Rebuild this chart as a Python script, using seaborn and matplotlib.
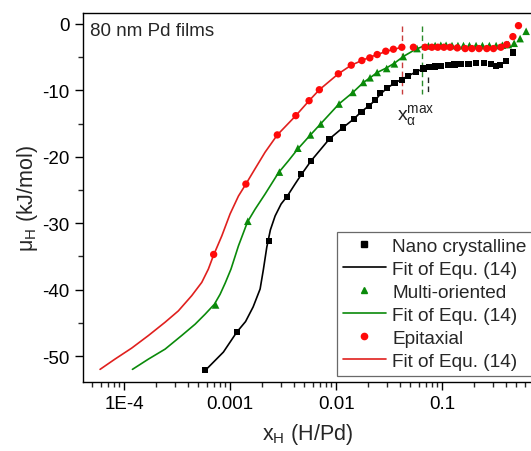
import matplotlib
matplotlib.use("Agg")
import matplotlib.pyplot as plt
import seaborn as sns
from matplotlib.lines import Line2D
from matplotlib.ticker import LogLocator, MultipleLocator, NullFormatter

# ──────────────────────────────────────────────
# Data
# ──────────────────────────────────────────────

# Nano crystalline: measured points
nano_x = [5.85e-4, 1.17e-3, 2.33e-3, 3.47e-3, 4.64e-3, 5.81e-3, 8.65e-3, 0.01156,
          0.01469, 0.01734, 0.0205, 0.0233, 0.026, 0.030, 0.0355, 0.0417, 0.048,
          0.0569, 0.0667, 0.0759, 0.0859, 0.098, 0.113, 0.131, 0.151, 0.177,
          0.209, 0.249, 0.288, 0.323, 0.352, 0.402, 0.465]
nano_y = [-52.1, -46.4, -32.7, -26.0, -22.6, -20.6, -17.3, -15.6,
          -14.3, -13.2, -12.3, -11.5, -10.4, -9.6, -8.9, -8.4, -7.8,
          -7.2, -6.7, -6.5, -6.4, -6.3, -6.2, -6.1, -6.0, -6.0,
          -5.9, -5.9, -6.0, -6.3, -6.2, -5.6, -4.3]

# Multi-oriented: measured points
multi_x = [7.3e-4, 1.47e-3, 2.92e-3, 4.36e-3, 5.73e-3, 7.18e-3, 0.01067, 0.0144,
           0.0181, 0.0209, 0.0244, 0.030, 0.0355, 0.043, 0.058, 0.0743, 0.0859,
           0.0972, 0.109, 0.124, 0.141, 0.159, 0.181, 0.209, 0.240, 0.279,
           0.323, 0.370, 0.422, 0.478, 0.544, 0.620]
multi_y = [-42.3, -29.7, -22.3, -18.7, -16.7, -15.06, -12.05, -10.3,
           -8.8, -8.1, -7.3, -6.7, -6.0, -4.9, -3.7, -3.3, -3.25,
           -3.2, -3.2, -3.25, -3.25, -3.25, -3.25, -3.25, -3.25, -3.25,
           -3.25, -3.2, -3.1, -2.9, -2.2, -1.1]

# Epitaxial: measured points
epi_x = [7.0e-4, 1.41e-3, 2.79e-3, 4.17e-3, 5.56e-3, 6.95e-3, 0.0105, 0.0139,
         0.0175, 0.0208, 0.0244, 0.0294, 0.0347, 0.0417, 0.0536, 0.0691, 0.080,
         0.091, 0.104, 0.119, 0.139, 0.165, 0.191, 0.223, 0.264, 0.305,
         0.358, 0.407, 0.465, 0.525]
epi_y = [-34.7, -24.1, -16.7, -13.8, -11.55, -9.9, -7.5, -6.2,
         -5.5, -5.1, -4.6, -4.1, -3.8, -3.5, -3.5, -3.5, -3.5,
         -3.5, -3.5, -3.5, -3.6, -3.7, -3.7, -3.7, -3.7, -3.7,
         -3.5, -3.1, -1.9, -0.25]

# Fit of Equ. (14)
nano_fit_x = [5.8e-4, 8.65e-4, 1.156e-3, 1.40e-3, 1.65e-3, 1.92e-3, 2.06e-3, 2.22e-3,
              2.40e-3, 2.66e-3, 3.03e-3, 3.47e-3, 4.10e-3, 4.64e-3, 5.81e-3, 8.65e-3,
              0.0116, 0.0147, 0.0173, 0.0205, 0.0233, 0.026, 0.030, 0.0355, 0.042,
              0.048, 0.057, 0.067, 0.074]
nano_fit_y = [-52.2, -49.4, -46.4, -44.8, -42.6, -39.9, -37.0, -33.6,
              -31.0, -28.9, -27.1, -25.9, -24.1, -22.8, -20.6, -17.3,
              -15.6, -14.3, -13.2, -12.3, -11.5, -10.6, -9.7, -8.9, -8.3,
              -7.8, -7.2, -6.7, -6.5]

multi_fit_x = [1.20e-4, 1.70e-4, 2.44e-4, 3.50e-4, 4.68e-4, 5.81e-4, 7.11e-4, 8.05e-4,
               9.0e-4, 1.02e-3, 1.20e-3, 1.46e-3, 1.72e-3, 2.14e-3, 2.86e-3, 3.55e-3,
               4.36e-3, 5.73e-3, 7.18e-3, 0.0107, 0.0144, 0.0181, 0.0209, 0.0244,
               0.030, 0.0355, 0.043, 0.055, 0.065]
multi_fit_y = [-52.0, -50.45, -48.95, -46.9, -45.2, -43.7, -42.2, -40.7,
               -39.0, -36.9, -33.4, -29.8, -27.9, -25.6, -22.4, -20.6,
               -18.8, -16.7, -15.0, -12.0, -10.3, -8.8, -8.1, -7.3,
               -6.6, -5.9, -4.9, -3.9, -3.4]

epi_fit_x = [5.94e-5, 8.22e-5, 1.18e-4, 1.70e-4, 2.44e-4, 3.25e-4, 4.35e-4, 5.41e-4,
             6.24e-4, 6.95e-4, 8.36e-4, 1.0e-3, 1.20e-3, 1.41e-3, 1.72e-3, 2.14e-3,
             2.79e-3, 4.17e-3, 5.56e-3, 6.95e-3, 0.0105, 0.0139, 0.0175, 0.0208,
             0.0244, 0.030, 0.035, 0.042]
epi_fit_y = [-52.0, -50.45, -48.8, -46.9, -44.9, -43.2, -40.9, -38.9,
             -36.9, -34.9, -31.9, -28.6, -25.9, -24.1, -21.8, -19.3,
             -16.7, -13.8, -11.55, -9.9, -7.5, -6.2, -5.5, -5.0,
             -4.6, -4.1, -3.8, -3.5]

# x_alpha^max markers (epitaxial, multi-oriented, nano crystalline)
xa_max = [0.0417, 0.0652, 0.0743]
xa_top = [-0.3, -0.3, -8.0]
xa_bottom = [-10.5, -10.5, -10.5]
xa_colors = ["#c83c3c", "#2a8a2a", "#222222"]

x_ticks = [1e-4, 1e-3, 1e-2, 1e-1]
x_ticklabels = ["1E-4", "0.001", "0.01", "0.1"]
y_ticks = [0, -10, -20, -30, -40, -50]

BLACK = "#000000"
GREEN = "#0a8a0a"
RED = "#ff0a0a"
RED_LINE = "#e0201e"


# ──────────────────────────────────────────────
# Plot
# ──────────────────────────────────────────────

sns.set_style("ticks")
plt.rcParams["font.family"] = ["Liberation Sans", "DejaVu Sans"]
plt.rcParams["mathtext.fontset"] = "custom"
plt.rcParams["mathtext.rm"] = "Liberation Sans"
plt.rcParams["mathtext.it"] = "Liberation Sans:italic"
plt.rcParams["axes.unicode_minus"] = False

fig = plt.figure(figsize=(5.31, 4.52), dpi=100)
ax = fig.add_axes([0.1563, 0.1527, 0.8475, 0.8164])
ax.set_xscale("log")

# fit curves
for fx, fy, col in [(nano_fit_x, nano_fit_y, BLACK),
                    (multi_fit_x, multi_fit_y, GREEN),
                    (epi_fit_x, epi_fit_y, RED_LINE)]:
    sns.lineplot(x=fx, y=fy, color=col, lw=1.2, sort=False, estimator=None,
                 ax=ax, zorder=2)

# measured points
sns.scatterplot(x=nano_x, y=nano_y, marker="s", color=BLACK, s=20,
                edgecolor="none", ax=ax, zorder=3)
sns.scatterplot(x=multi_x, y=multi_y, marker="^", color=GREEN, s=30,
                edgecolor="none", ax=ax, zorder=3)
sns.scatterplot(x=epi_x, y=epi_y, marker="o", color=RED, s=28,
                edgecolor="none", ax=ax, zorder=4)

# x_alpha^max dashed lines
for xv, y0, y1, col in zip(xa_max, xa_top, xa_bottom, xa_colors):
    ax.plot([xv, xv], [y0, y1], color=col, lw=1.0, ls=(0, (4, 2.5)), zorder=1)
ax.text(0.0375, -13.6, r"$\mathregular{x_{\alpha}^{max}}$", fontsize=14,
        ha="left", va="center", color="#222222")

ax.text(0.016, 0.952, "80 nm Pd films", transform=ax.transAxes, fontsize=13.5,
        ha="left", va="center")

# axes
ax.set_xlim(4.1e-5, 0.72)
ax.set_ylim(-53.9, 1.66)
ax.set_xticks(x_ticks)
ax.set_xticklabels(x_ticklabels)
ax.xaxis.set_minor_locator(LogLocator(base=10, subs=range(2, 10), numticks=20))
ax.xaxis.set_minor_formatter(NullFormatter())
ax.set_yticks(y_ticks)
ax.yaxis.set_minor_locator(MultipleLocator(5))
ax.tick_params(axis="both", which="major", direction="out", length=6, width=1.0,
               labelsize=13.5, colors="black")
ax.tick_params(axis="both", which="minor", direction="out", length=3.5, width=1.0)
for sp in ax.spines.values():
    sp.set_linewidth(1.0)
    sp.set_color("black")
ax.set_xlabel(r"$\mathregular{x_H}$ (H/Pd)", fontsize=15.5, labelpad=6)
ax.set_ylabel(r"$\mathregular{\mu_H}$ (kJ/mol)", fontsize=15.5, labelpad=2)

# legend
handles = [
    Line2D([], [], ls="none", marker="s", color=BLACK, markersize=4),
    Line2D([], [], color=BLACK, lw=1.2),
    Line2D([], [], ls="none", marker="^", color=GREEN, markersize=4.5),
    Line2D([], [], color=GREEN, lw=1.2),
    Line2D([], [], ls="none", marker="o", color=RED, markersize=4.5),
    Line2D([], [], color=RED_LINE, lw=1.2),
]
labels = ["Nano crystalline", "Fit of Equ. (14)", "Multi-oriented",
          "Fit of Equ. (14)", "Epitaxial", "Fit of Equ. (14)"]
leg = ax.legend(handles, labels, loc="lower right", bbox_to_anchor=(0.998, 0.017),
                frameon=True, fancybox=False, fontsize=13.7, handlelength=2.3,
                handletextpad=0.3, labelspacing=0.3, borderaxespad=0.0,
                borderpad=0.3)
leg.get_frame().set_edgecolor("#444444")
leg.get_frame().set_linewidth(0.9)

fig.savefig("out.png", dpi=100)
